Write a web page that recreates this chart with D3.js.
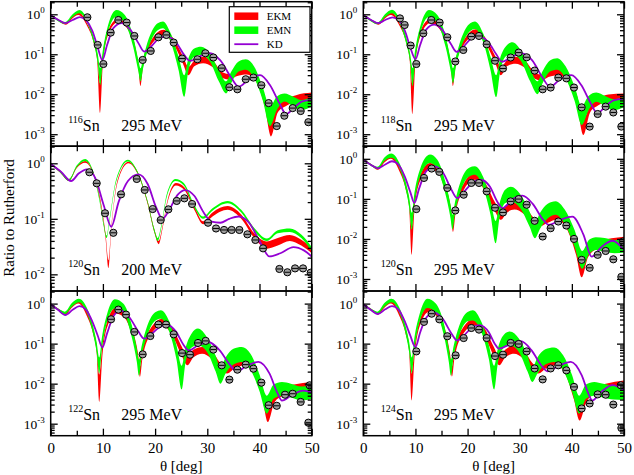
<!DOCTYPE html>
<html>
<head>
<meta charset="utf-8">
<script src="https://cdn.jsdelivr.net/npm/d3@7"></script>
<style>
	body { margin: 0; background: #fff; }
	text { font-family: "Liberation Serif", "Times New Roman", serif; }
</style>
</head>
<body>
<script>
// ---- data: [theta, lo, hi] for bands, [theta, value] for lines / points ----
var thetaDomain = [ 0, 50 ];
var xMajor = [ 0, 10, 20, 30, 40, 50 ];
var xMinor = [ 5, 15, 25, 35, 45 ];
var decades295 = [ 1e-3, 1e-2, 1e-1, 1 ];
var decades200 = [ 1e-2, 1e-1, 1 ];
var yDomain295 = [ Math.pow( 10, -3.3 ), Math.pow( 10, 0.315 ) ];
var yDomain200 = [ Math.pow( 10, -2.3 ), Math.pow( 10, 0.308 ) ];
var legendNames = [ "EKM", "EMN", "KD" ];

// 116Sn 295 MeV
var ekm116 = [ [0,0.95,1.0],[1.5,0.68,0.74],[2.9,0.55,0.6],[4.2,0.8,0.9],[5.3,0.96,1.12],[7.0,0.5,0.58],[8.2,0.2,0.24],[8.9,0.07,0.1],[9.45,0.0034,0.019],[10.0,0.06,0.1],[11.2,0.35,0.45],[12.8,0.62,0.75],[14.3,0.5,0.62],[16.0,0.15,0.2],[16.8,0.045,0.06],[17.2,0.016,0.028],[17.7,0.05,0.07],[19.5,0.19,0.25],[21.6,0.3,0.41],[23.5,0.18,0.25],[25.3,0.06,0.09],[26.4,0.03,0.049],[27.5,0.05,0.07],[29.2,0.06,0.087],[31.0,0.048,0.07],[33.0,0.025,0.035],[34.3,0.023,0.032],[35.6,0.028,0.04],[37.6,0.031,0.045],[39.4,0.02,0.03],[41.0,0.005,0.009],[42.2,0.00088,0.0023],[43.5,0.0035,0.0055],[45.0,0.005,0.0075],[47.0,0.0065,0.0095],[50.0,0.0072,0.011] ];
var emn116 = [ [0,0.93,1.0],[1.5,0.66,0.74],[2.8,0.57,0.64],[4.2,0.85,1.0],[5.5,1.06,1.28],[7.0,0.6,0.75],[8.2,0.2,0.28],[9.0,0.06,0.106],[9.5,0.017,0.045],[10.0,0.066,0.13],[11.0,0.37,0.54],[12.6,0.87,1.28],[14.2,0.6,0.96],[15.8,0.155,0.28],[16.8,0.037,0.072],[17.2,0.021,0.045],[17.7,0.045,0.08],[18.8,0.155,0.25],[20.5,0.4,0.6],[21.5,0.45,0.66],[23.0,0.2,0.33],[24.5,0.04,0.087],[25.6,0.0087,0.03],[26.3,0.034,0.072],[27.5,0.087,0.14],[28.8,0.096,0.155],[30.5,0.066,0.106],[32.2,0.021,0.04],[33.6,0.0105,0.021],[34.6,0.019,0.037],[36.0,0.037,0.066],[37.4,0.041,0.075],[39.0,0.025,0.049],[40.6,0.0072,0.0155],[42.0,0.0016,0.0049],[43.3,0.004,0.0087],[44.8,0.0066,0.0105],[46.5,0.0049,0.0087],[48.0,0.004,0.0072],[50.0,0.0049,0.0087] ];
var kd116 = [ [0,0.95],[1.5,0.72],[2.8,0.6],[4.2,0.72],[5.6,0.85],[6.8,0.7],[8.0,0.38],[9.0,0.15],[9.9,0.072],[10.8,0.17],[12,0.45],[13.6,0.6],[15.2,0.42],[16.8,0.19],[17.9,0.117],[19.1,0.15],[20.6,0.24],[22.2,0.28],[24.0,0.2],[25.6,0.095],[26.7,0.068],[28.5,0.088],[30.5,0.106],[32.5,0.07],[34.5,0.027],[36.0,0.0155],[38.0,0.024],[40.1,0.03],[42.0,0.017],[43.8,0.006],[45.1,0.0032],[46.6,0.0046],[48.2,0.0066],[50,0.0072] ];
var exp116 = [ [7.02,0.84],[9.0,0.171],[10.09,0.057],[11.49,0.348],[12.96,0.72],[14.56,0.62],[16.03,0.287],[17.62,0.072],[19.16,0.121],[20.63,0.266],[22.16,0.304],[23.56,0.196],[25.16,0.078],[28.1,0.075],[29.63,0.106],[31.16,0.083],[32.76,0.045],[34.23,0.015],[35.76,0.0133],[37.36,0.0237],[38.83,0.0261],[40.36,0.0168],[41.76,0.006],[43.3,0.0016],[44.76,0.0029],[46.36,0.0045],[47.89,0.0038],[49.36,0.002] ];

// 118Sn 295 MeV
var ekm118 = [ [0,0.95,1.0],[1.5,0.68,0.74],[2.9,0.55,0.6],[4.2,0.8,0.92],[5.3,0.96,1.15],[7.0,0.5,0.58],[8.2,0.2,0.24],[8.9,0.07,0.1],[9.4,0.0032,0.018],[10.0,0.06,0.1],[11.2,0.34,0.45],[12.8,0.6,0.75],[14.3,0.48,0.62],[16.0,0.15,0.2],[16.8,0.045,0.06],[17.2,0.016,0.028],[17.7,0.05,0.07],[19.5,0.19,0.25],[21.6,0.3,0.42],[23.5,0.18,0.25],[25.3,0.06,0.09],[26.4,0.03,0.049],[27.5,0.05,0.07],[29.2,0.058,0.087],[31.0,0.046,0.07],[33.0,0.024,0.034],[34.2,0.022,0.031],[35.5,0.027,0.04],[37.5,0.03,0.045],[39.3,0.019,0.03],[41.0,0.005,0.009],[42.2,0.00095,0.0023],[43.5,0.0035,0.0055],[45.0,0.0052,0.0078],[47.0,0.0068,0.0098],[50.0,0.0075,0.0105] ];
var emn118 = [ [0,0.93,1.0],[1.5,0.66,0.74],[2.8,0.56,0.63],[4.2,0.85,1.02],[5.5,1.06,1.3],[7.0,0.58,0.75],[8.2,0.19,0.28],[9.0,0.06,0.1],[9.45,0.016,0.045],[9.95,0.065,0.13],[11.0,0.36,0.54],[12.6,0.85,1.28],[14.2,0.6,0.96],[15.8,0.15,0.28],[16.8,0.036,0.072],[17.2,0.019,0.045],[17.7,0.045,0.08],[18.8,0.15,0.25],[20.5,0.38,0.6],[21.4,0.43,0.66],[23.0,0.2,0.33],[24.4,0.04,0.087],[25.5,0.0085,0.03],[26.2,0.034,0.075],[27.4,0.09,0.16],[28.6,0.1,0.2],[30.3,0.066,0.12],[32.0,0.021,0.042],[33.4,0.01,0.021],[34.4,0.019,0.038],[35.8,0.037,0.07],[37.2,0.041,0.08],[38.8,0.025,0.05],[40.5,0.007,0.016],[41.9,0.0017,0.005],[43.2,0.004,0.009],[44.7,0.0065,0.011],[46.4,0.005,0.009],[48.0,0.004,0.0075],[50.0,0.0048,0.0085] ];
var kd118 = [ [0,0.95],[1.5,0.72],[2.8,0.6],[4.2,0.72],[5.6,0.84],[6.8,0.7],[8.0,0.38],[9.0,0.15],[10.0,0.075],[10.9,0.17],[12.1,0.42],[13.6,0.55],[15.2,0.4],[16.8,0.18],[17.9,0.115],[19.1,0.15],[20.6,0.24],[22.1,0.28],[24.0,0.2],[25.5,0.1],[26.6,0.065],[28.4,0.085],[30.4,0.105],[32.4,0.07],[34.3,0.027],[35.8,0.0155],[37.8,0.024],[39.9,0.03],[41.8,0.017],[43.6,0.006],[44.9,0.0033],[46.3,0.0048],[48.0,0.007],[50,0.0078] ];
var exp118 = [ [7.03,0.79],[7.93,0.54],[9.08,0.165],[10.17,0.057],[11.51,0.335],[13.04,0.72],[14.64,0.62],[16.11,0.266],[17.65,0.066],[19.18,0.128],[20.72,0.277],[22.19,0.287],[23.66,0.178],[25.26,0.069],[26.79,0.044],[28.26,0.083],[29.8,0.11],[31.33,0.084],[32.86,0.039],[34.4,0.0133],[35.93,0.0147],[37.4,0.026],[38.94,0.025],[40.41,0.0147],[41.88,0.0047],[43.41,0.00155],[44.95,0.0032],[46.48,0.0049],[47.95,0.0035],[49.49,0.00155] ];

// 120Sn 200 MeV
var ekm120a = [ [0,0.95,1.0],[1.8,0.68,0.74],[3.5,0.48,0.52],[5.0,0.82,0.88],[6.6,1.02,1.1],[8.0,0.7,0.75],[9.5,0.2,0.23],[10.5,0.045,0.055],[11.05,0.013,0.018],[11.6,0.06,0.07],[12.8,0.45,0.5],[14.9,1.0,1.07],[16.6,0.66,0.72],[18.6,0.18,0.2],[19.9,0.055,0.062],[20.7,0.035,0.04],[21.4,0.065,0.072],[22.4,0.2,0.22],[24.0,0.4,0.44],[25.6,0.33,0.37],[27.6,0.14,0.16],[29.2,0.08,0.09],[31.0,0.11,0.13],[33.9,0.145,0.17],[36.5,0.1,0.12],[39.0,0.045,0.055],[41.4,0.029,0.039],[43.5,0.033,0.045],[45.8,0.04,0.051],[48,0.033,0.042],[50,0.024,0.03] ];
var emn120a = [ [0,0.95,1.0],[1.8,0.68,0.74],[3.5,0.48,0.52],[5.0,0.85,0.92],[6.6,1.1,1.2],[8.0,0.72,0.78],[9.3,0.22,0.25],[10.2,0.07,0.08],[10.7,0.045,0.05],[11.2,0.08,0.09],[12.5,0.45,0.5],[14.8,1.08,1.16],[16.5,0.7,0.76],[18.5,0.2,0.22],[19.8,0.06,0.068],[20.5,0.04,0.045],[21.2,0.07,0.078],[22.2,0.24,0.27],[23.9,0.48,0.52],[25.5,0.4,0.44],[27.5,0.16,0.18],[29.2,0.1,0.11],[31.0,0.14,0.155],[33.9,0.19,0.21],[36.5,0.13,0.145],[39.0,0.06,0.068],[41.4,0.04,0.044],[43.5,0.055,0.062],[45.8,0.058,0.067],[48,0.045,0.052],[50,0.026,0.031] ];
var kd120a = [ [0,0.97],[2,0.7],[3.9,0.48],[5.4,0.66],[6.9,0.78],[8.5,0.55],[10.2,0.17],[11.6,0.072],[13,0.2],[14.8,0.48],[16.8,0.63],[18.6,0.42],[20.2,0.16],[21.4,0.1],[22.8,0.15],[24.3,0.27],[25.8,0.33],[27.5,0.26],[29.3,0.13],[30.8,0.089],[32.5,0.085],[34.2,0.1],[36,0.11],[38,0.085],[40,0.04],[41.9,0.021],[44,0.024],[46.5,0.031],[48.5,0.027],[50,0.021] ];
var exp120a = [ [7.41,0.69],[8.81,0.436],[10.41,0.126],[12.0,0.056],[13.47,0.276],[16.48,0.522],[18.01,0.331],[19.54,0.15],[21.07,0.095],[22.54,0.148],[24.14,0.21],[25.61,0.234],[27.08,0.185],[30.14,0.085],[31.67,0.067],[33.21,0.063],[34.67,0.063],[36.14,0.063],[37.68,0.0526],[39.21,0.0416],[40.68,0.0294],[43.81,0.0125],[45.34,0.0109],[46.81,0.0128],[48.34,0.0128],[49.81,0.0107] ];

// 120Sn 295 MeV
var ekm120 = [ [0,0.95,1.0],[1.5,0.68,0.74],[2.8,0.53,0.6],[4.1,0.82,0.98],[5.3,1.0,1.24],[6.9,0.5,0.62],[8.1,0.18,0.24],[8.8,0.06,0.09],[9.25,0.004,0.018],[9.8,0.05,0.09],[11.0,0.3,0.42],[12.8,0.56,0.79],[14.3,0.45,0.62],[15.9,0.13,0.2],[16.8,0.04,0.06],[17.2,0.015,0.027],[17.7,0.045,0.07],[19.4,0.18,0.26],[21.4,0.3,0.45],[23.3,0.16,0.26],[25.2,0.05,0.085],[26.4,0.03,0.048],[27.5,0.045,0.07],[29.0,0.054,0.079],[30.8,0.042,0.066],[32.8,0.022,0.033],[34.0,0.021,0.029],[35.3,0.025,0.038],[37.1,0.03,0.046],[39.0,0.018,0.03],[40.8,0.004,0.008],[41.9,0.0011,0.0025],[43.1,0.0035,0.006],[44.8,0.0055,0.0085],[46.8,0.006,0.01],[50.0,0.0066,0.0114] ];
var emn120 = [ [0,0.93,1.0],[1.5,0.66,0.74],[2.7,0.55,0.63],[4.1,0.9,1.1],[5.4,1.06,1.36],[6.9,0.6,0.8],[8.1,0.18,0.28],[8.8,0.06,0.11],[9.3,0.017,0.045],[9.8,0.07,0.14],[10.9,0.36,0.56],[12.8,0.79,1.28],[14.2,0.55,0.95],[15.7,0.14,0.28],[16.7,0.035,0.075],[17.1,0.0175,0.04],[17.6,0.045,0.085],[18.7,0.16,0.28],[20.3,0.36,0.6],[21.4,0.4,0.65],[23.0,0.19,0.35],[24.4,0.04,0.09],[25.4,0.0078,0.028],[26.1,0.032,0.075],[27.2,0.078,0.17],[28.3,0.086,0.2],[30.1,0.058,0.13],[31.9,0.02,0.048],[32.9,0.0104,0.025],[33.9,0.018,0.045],[35.3,0.032,0.075],[36.9,0.04,0.087],[38.6,0.024,0.055],[40.5,0.0065,0.017],[42.0,0.0018,0.005],[43.3,0.0042,0.0095],[44.6,0.0053,0.011],[46.3,0.0048,0.0105],[48.2,0.0044,0.0094],[50.0,0.0046,0.0094] ];
var kd120 = [ [0,0.95],[1.5,0.7],[2.8,0.58],[4.2,0.72],[5.5,0.87],[6.8,0.7],[8.0,0.35],[9.0,0.15],[9.8,0.079],[10.7,0.18],[12,0.48],[13.7,0.65],[15.3,0.45],[16.9,0.17],[18.0,0.105],[19.3,0.15],[20.9,0.25],[22.5,0.3],[24.3,0.2],[25.7,0.085],[26.7,0.059],[28.5,0.095],[30.5,0.12],[32.5,0.075],[34.5,0.03],[35.6,0.0225],[37.8,0.03],[40.1,0.036],[42.2,0.013],[43.8,0.0036],[45.8,0.0065],[47.8,0.009],[50,0.0053] ];
var exp120 = [ [10.17,0.0556],[11.64,0.333],[13.11,0.572],[14.58,0.472],[16.11,0.187],[17.65,0.0514],[19.25,0.127],[20.72,0.25],[22.19,0.25],[23.66,0.154],[25.26,0.06],[26.79,0.0458],[28.26,0.0865],[29.8,0.099],[31.33,0.0714],[32.86,0.0283],[34.4,0.0115],[35.93,0.0185],[37.4,0.0272],[38.94,0.0216],[40.41,0.01],[41.88,0.003],[43.41,0.0019],[44.95,0.004],[46.48,0.005],[47.95,0.0031],[49.8,0.0086],[49.49,0.00113] ];

// 122Sn 295 MeV
var ekm122 = [ [0,0.95,1.0],[1.5,0.68,0.74],[2.8,0.53,0.6],[4.1,0.8,0.95],[5.3,1.0,1.2],[6.9,0.5,0.62],[8.1,0.18,0.24],[8.8,0.06,0.09],[9.3,0.0035,0.017],[9.9,0.05,0.09],[11.0,0.3,0.42],[12.6,0.56,0.82],[14.1,0.45,0.65],[15.8,0.13,0.2],[16.7,0.04,0.06],[17.1,0.0147,0.027],[17.6,0.045,0.07],[19.3,0.18,0.26],[21.4,0.29,0.42],[23.3,0.16,0.25],[25.1,0.05,0.085],[26.2,0.029,0.048],[27.3,0.045,0.07],[29.0,0.056,0.083],[30.8,0.042,0.066],[32.6,0.02,0.032],[33.8,0.018,0.027],[35.2,0.024,0.038],[37.2,0.029,0.044],[39.0,0.017,0.028],[40.6,0.004,0.008],[41.6,0.0011,0.0025],[42.9,0.0035,0.006],[44.6,0.005,0.008],[46.6,0.0055,0.0095],[50.0,0.006,0.011] ];
var emn122 = [ [0,0.93,1.0],[1.5,0.66,0.74],[2.7,0.55,0.63],[4.1,0.85,1.05],[5.4,1.08,1.33],[6.9,0.6,0.8],[8.1,0.18,0.28],[8.8,0.06,0.11],[9.3,0.018,0.045],[9.8,0.07,0.14],[10.8,0.35,0.55],[12.3,0.75,1.28],[13.9,0.6,1.0],[15.5,0.15,0.3],[16.5,0.035,0.075],[16.9,0.016,0.04],[17.4,0.045,0.085],[18.5,0.16,0.28],[20.1,0.38,0.62],[21.1,0.42,0.68],[22.7,0.2,0.36],[24.1,0.04,0.09],[25.1,0.0072,0.028],[25.8,0.032,0.075],[27.0,0.08,0.18],[28.2,0.091,0.24],[30.0,0.06,0.14],[31.6,0.02,0.05],[32.5,0.01,0.025],[33.5,0.018,0.045],[35.0,0.03,0.075],[36.6,0.035,0.083],[38.3,0.022,0.055],[40.0,0.0065,0.017],[41.4,0.0018,0.005],[42.7,0.0042,0.0095],[44.3,0.005,0.011],[46.0,0.0045,0.01],[48.0,0.0038,0.0085],[50.0,0.0042,0.009] ];
var kd122 = [ [0,0.97],[1.4,0.7],[2.8,0.52],[4.2,0.7],[5.5,0.87],[6.8,0.7],[8.0,0.35],[9.0,0.16],[9.9,0.08],[10.8,0.18],[12,0.48],[13.4,0.68],[15.1,0.45],[16.8,0.2],[17.9,0.133],[19.2,0.17],[20.7,0.25],[22.2,0.3],[24,0.2],[25.4,0.095],[26.4,0.068],[28.2,0.09],[30.2,0.11],[32.3,0.07],[34.3,0.03],[35.6,0.0204],[37.6,0.028],[39.8,0.035],[41.9,0.018],[43.4,0.006],[44.3,0.0038],[46.2,0.0052],[48.4,0.0067],[50,0.006] ];
var exp122 = [ [11.56,0.406],[12.96,0.708],[14.43,0.531],[16.03,0.196],[17.62,0.054],[19.09,0.155],[20.63,0.3],[22.09,0.3],[23.56,0.171],[25.16,0.058],[26.69,0.053],[28.22,0.104],[29.69,0.117],[31.16,0.071],[32.76,0.0287],[34.23,0.0126],[35.76,0.0224],[37.36,0.0299],[38.83,0.0237],[40.36,0.0106],[41.76,0.0029],[43.3,0.0028],[44.89,0.0053],[46.36,0.0056],[47.89,0.0035],[49.6,0.0091],[49.36,0.00106] ];

// 124Sn 295 MeV
var ekm124 = [ [0,0.95,1.0],[1.5,0.68,0.74],[2.8,0.53,0.6],[4.1,0.8,0.95],[5.3,1.0,1.2],[6.9,0.5,0.62],[8.1,0.18,0.24],[8.8,0.06,0.09],[9.25,0.0038,0.018],[9.85,0.05,0.09],[11.0,0.32,0.45],[12.6,0.62,0.9],[14.1,0.48,0.68],[15.8,0.13,0.2],[16.6,0.04,0.06],[17.0,0.015,0.027],[17.5,0.045,0.07],[19.2,0.18,0.26],[21.3,0.29,0.42],[23.2,0.16,0.25],[25.0,0.05,0.085],[26.1,0.029,0.048],[27.2,0.045,0.07],[28.9,0.056,0.09],[30.7,0.042,0.07],[32.5,0.02,0.032],[33.6,0.018,0.027],[35.0,0.024,0.038],[37.0,0.029,0.046],[38.8,0.017,0.028],[40.4,0.004,0.008],[41.5,0.0012,0.0026],[42.8,0.0035,0.006],[44.5,0.0055,0.0085],[46.5,0.006,0.01],[50.0,0.0068,0.012] ];
var emn124 = [ [0,0.93,1.0],[1.5,0.66,0.74],[2.7,0.55,0.63],[4.1,0.85,1.05],[5.4,1.08,1.33],[6.9,0.6,0.8],[8.1,0.18,0.28],[8.8,0.06,0.11],[9.3,0.018,0.045],[9.8,0.07,0.14],[10.8,0.35,0.55],[12.3,0.78,1.33],[13.9,0.6,1.0],[15.5,0.15,0.3],[16.4,0.035,0.075],[16.8,0.016,0.04],[17.3,0.045,0.085],[18.4,0.16,0.28],[20.0,0.36,0.62],[21.0,0.38,0.68],[22.6,0.2,0.36],[24.1,0.04,0.09],[25.1,0.0072,0.028],[25.8,0.032,0.075],[27.0,0.08,0.17],[28.1,0.091,0.2],[29.9,0.06,0.13],[31.5,0.02,0.05],[32.4,0.011,0.025],[33.4,0.018,0.045],[34.9,0.03,0.072],[36.6,0.035,0.08],[38.3,0.022,0.052],[40.0,0.0065,0.017],[41.4,0.0018,0.005],[42.7,0.0042,0.0095],[44.3,0.005,0.011],[46.0,0.0045,0.01],[48.0,0.004,0.009],[50.0,0.0039,0.009] ];
var kd124 = [ [0,0.96],[1.4,0.7],[2.8,0.55],[4.2,0.72],[5.5,0.87],[6.8,0.7],[8.0,0.35],[9.0,0.16],[10.0,0.082],[10.9,0.19],[12.1,0.45],[13.6,0.6],[15.2,0.42],[16.9,0.18],[18.0,0.12],[19.3,0.16],[20.8,0.25],[22.3,0.29],[24.1,0.19],[25.2,0.1],[26.0,0.075],[28.0,0.095],[30.2,0.115],[32.2,0.07],[34.2,0.028],[35.3,0.0204],[37.5,0.028],[39.8,0.035],[41.9,0.016],[43.2,0.0055],[43.9,0.0038],[45.8,0.0065],[47.8,0.0092],[50,0.0068] ];
var exp124 = [ [10.17,0.064],[11.64,0.35],[13.11,0.56],[14.58,0.405],[16.11,0.153],[17.71,0.051],[19.25,0.138],[20.72,0.246],[22.19,0.224],[23.66,0.138],[25.26,0.049],[26.79,0.053],[28.26,0.104],[29.8,0.098],[31.33,0.064],[32.86,0.024],[34.4,0.0128],[35.93,0.024],[37.4,0.0288],[38.94,0.0215],[40.41,0.0083],[41.88,0.0024],[43.41,0.0032],[44.95,0.0054],[46.48,0.0053],[47.95,0.003],[49.4,0.0091],[49.5,0.00078] ];

// ---- layout ----
var width = 634, height = 475;
var colX = [ [ 50.7, 311.7 ], [ 363.3, 624 ] ];
var rowY = [ [ 1.7, 146.2 ], [ 146.2, 291 ], [ 291, 435.7 ] ];
var red = "#ff0000", green = "#00ff00", violet = "#9400d3";

var panels = [
	{ mass: "116", energy: "295 MeV", col: 0, row: 0, ekm: ekm116, emn: emn116, kd: kd116, exp: exp116, dom: yDomain295, dec: decades295, legend: true },
	{ mass: "118", energy: "295 MeV", col: 1, row: 0, ekm: ekm118, emn: emn118, kd: kd118, exp: exp118, dom: yDomain295, dec: decades295 },
	{ mass: "120", energy: "200 MeV", col: 0, row: 1, ekm: ekm120a, emn: emn120a, kd: kd120a, exp: exp120a, dom: yDomain200, dec: decades200 },
	{ mass: "120", energy: "295 MeV", col: 1, row: 1, ekm: ekm120, emn: emn120, kd: kd120, exp: exp120, dom: yDomain295, dec: decades295 },
	{ mass: "122", energy: "295 MeV", col: 0, row: 2, ekm: ekm122, emn: emn122, kd: kd122, exp: exp122, dom: yDomain295, dec: decades295 },
	{ mass: "124", energy: "295 MeV", col: 1, row: 2, ekm: ekm124, emn: emn124, kd: kd124, exp: exp124, dom: yDomain295, dec: decades295 }
];

var svg = d3.select( "body" ).append( "svg" )
	.attr( "width", width )
	.attr( "height", height );

function minorTicks( dom ) {
	var out = [];
	for ( var n = -4; n <= 0; n++ ) {
		for ( var k = 2; k <= 9; k++ ) {
			var v = k * Math.pow( 10, n );
			if ( v > dom[0] && v < dom[1] ) out.push( v );
		}
	}
	return out;
}

function cleanAxis( g ) {
	g.select( ".domain" ).remove();
	g.selectAll( ".tick line" ).attr( "stroke", "#000" ).attr( "stroke-width", 1.3 );
	g.attr( "font-family", "'Liberation Serif', serif" ).attr( "font-size", 15 );
	g.selectAll( ".tick text" ).attr( "fill", "#000" );
}

panels.forEach( function ( p, i ) {
	var x0 = colX[p.col][0], x1 = colX[p.col][1];
	var y0 = rowY[p.row][0], y1 = rowY[p.row][1];

	var x = d3.scaleLinear().domain( thetaDomain ).range( [ x0, x1 ] );
	var y = d3.scaleLog().domain( p.dom ).range( [ y1, y0 ] );

	var g = svg.append( "g" );
	g.append( "clipPath" ).attr( "id", "clip" + i )
		.append( "rect" )
		.attr( "x", x0 ).attr( "y", y0 )
		.attr( "width", x1 - x0 ).attr( "height", y1 - y0 );

	var plot = g.append( "g" ).attr( "clip-path", "url(#clip" + i + ")" );

	var band = d3.area()
		.x( d => x( d[0] ) )
		.y0( d => y( d[1] ) )
		.y1( d => y( d[2] ) )
		.curve( d3.curveMonotoneX );
	var line = d3.line()
		.x( d => x( d[0] ) )
		.y( d => y( d[1] ) )
		.curve( d3.curveMonotoneX );

	plot.append( "path" ).datum( p.ekm ).attr( "d", band ).attr( "fill", red );
	plot.append( "path" ).datum( p.emn ).attr( "d", band ).attr( "fill", green );
	plot.append( "path" ).datum( p.kd ).attr( "d", line )
		.attr( "fill", "none" ).attr( "stroke", violet ).attr( "stroke-width", 1.8 );

	var pts = plot.append( "g" ).selectAll( "g" )
		.data( p.exp )
		.join( "g" )
		.attr( "transform", d => `translate(${ x( d[0] ) },${ y( d[1] ) })` );
	pts.append( "circle" ).attr( "r", 3.6 )
		.attr( "fill", "#a0a0a0" ).attr( "stroke", "#000" ).attr( "stroke-width", 1 );
	pts.append( "line" ).attr( "x1", -3 ).attr( "x2", 3 )
		.attr( "stroke", "#000" ).attr( "stroke-width", 1 );

	// x ticks, inward, top and bottom
	g.append( "g" ).attr( "transform", `translate(0,${ y1 })` )
		.call( d3.axisBottom( x ).tickValues( xMajor ).tickSize( -7 ).tickPadding( 7 )
			.tickFormat( p.row === 2 ? d3.format( "d" ) : "" ) )
		.call( cleanAxis );
	g.append( "g" ).attr( "transform", `translate(0,${ y1 })` )
		.call( d3.axisBottom( x ).tickValues( xMinor ).tickSize( -5 ).tickFormat( "" ) )
		.call( cleanAxis );
	g.append( "g" ).attr( "transform", `translate(0,${ y0 })` )
		.call( d3.axisTop( x ).tickValues( xMajor ).tickSize( -7 ).tickFormat( "" ) )
		.call( cleanAxis );
	g.append( "g" ).attr( "transform", `translate(0,${ y0 })` )
		.call( d3.axisTop( x ).tickValues( xMinor ).tickSize( -5 ).tickFormat( "" ) )
		.call( cleanAxis );

	// y ticks, inward, left and right
	var minors = minorTicks( p.dom );
	g.append( "g" ).attr( "transform", `translate(${ x0 },0)` )
		.call( d3.axisLeft( y ).tickValues( p.dec ).tickSize( -7 ).tickFormat( "" ) )
		.call( cleanAxis );
	g.append( "g" ).attr( "transform", `translate(${ x0 },0)` )
		.call( d3.axisLeft( y ).tickValues( minors ).tickSize( -4 ).tickFormat( "" ) )
		.call( cleanAxis );
	g.append( "g" ).attr( "transform", `translate(${ x1 },0)` )
		.call( d3.axisRight( y ).tickValues( p.dec ).tickSize( -7 ).tickFormat( "" ) )
		.call( cleanAxis );
	g.append( "g" ).attr( "transform", `translate(${ x1 },0)` )
		.call( d3.axisRight( y ).tickValues( minors ).tickSize( -4 ).tickFormat( "" ) )
		.call( cleanAxis );

	// decade labels 10^n
	var lab = g.append( "g" ).selectAll( "text" )
		.data( p.dec )
		.join( "text" )
		.attr( "x", x0 - 6 )
		.attr( "y", d => y( d ) + 5 )
		.attr( "text-anchor", "end" )
		.attr( "font-size", 13.5 );
	lab.append( "tspan" ).text( "10" );
	lab.append( "tspan" ).attr( "font-size", 9 ).attr( "dy", -6 )
		.text( d => String( Math.round( Math.log10( d ) ) ) );

	// frame
	g.append( "rect" )
		.attr( "x", x0 ).attr( "y", y0 )
		.attr( "width", x1 - x0 ).attr( "height", y1 - y0 )
		.attr( "fill", "none" ).attr( "stroke", "#000" ).attr( "stroke-width", 1.5 );

	// nucleus / energy label
	var t = g.append( "text" )
		.attr( "x", x0 + 17.5 )
		.attr( "y", y0 + 129 )
		.attr( "font-size", 16 );
	t.append( "tspan" ).attr( "font-size", 10 ).attr( "dy", -8 ).text( p.mass );
	t.append( "tspan" ).attr( "dy", 8 ).text( "Sn" );
	g.append( "text" )
		.attr( "x", x0 + 70.5 )
		.attr( "y", y0 + 129 )
		.attr( "font-size", 16 )
		.text( p.energy );

	if ( p.legend ) {
		var lg = g.append( "g" );
		lg.append( "rect" )
			.attr( "x", 229.3 ).attr( "y", 6.7 )
			.attr( "width", 80.7 ).attr( "height", 45.6 )
			.attr( "fill", "#fff" ).attr( "stroke", "#000" ).attr( "stroke-width", 1.2 );
		var colors = [ red, green, violet ];
		legendNames.forEach( function ( name, k ) {
			var ly = 16.2 + k * 14;
			lg.append( "line" )
				.attr( "x1", 234.3 ).attr( "x2", 258.3 )
				.attr( "y1", ly ).attr( "y2", ly )
				.attr( "stroke", colors[k] )
				.attr( "stroke-width", k < 2 ? 7.5 : 1.8 );
			lg.append( "text" )
				.attr( "x", 266.7 ).attr( "y", ly + 4 )
				.attr( "font-size", 11 )
				.text( name );
		} );
	}
} );

// axis titles
svg.append( "text" )
	.attr( "transform", "translate(14,218) rotate(-90)" )
	.attr( "text-anchor", "middle" )
	.attr( "font-size", 15 )
	.text( "Ratio to Rutherford" );

colX.forEach( function ( c ) {
	svg.append( "text" )
		.attr( "x", ( c[0] + c[1] ) / 2 )
		.attr( "y", 471 )
		.attr( "text-anchor", "middle" )
		.attr( "font-size", 15 )
		.text( "θ [deg]" );
} );
</script>
</body>
</html>
